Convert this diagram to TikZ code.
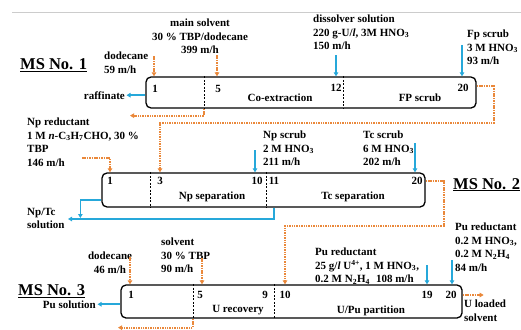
\documentclass[tikz,border=0pt]{standalone}
\usepackage{fontspec}
\setmainfont{Liberation Serif}
\usetikzlibrary{positioning,calc,arrows.meta}

\definecolor{aqblue}{RGB}{38,168,218}
\definecolor{orgorange}{RGB}{234,136,58}

\tikzset{
    bank/.style={draw, line width=1.3pt, rounded corners=5pt, inner sep=0pt},
    cut/.style={dash pattern=on 2pt off 1.5pt, line width=0.8pt},
    aqflow/.style={aqblue, line width=1.6pt, -{Triangle[length=4pt,width=4.5pt]}},
    orgflow/.style={orgorange, line width=2pt, dash pattern=on 1.5pt off 0.9pt, -{Triangle[length=4pt,width=4.5pt]}},
    feed/.style={font=\fontsize{11}{13.5}\selectfont\bfseries, inner sep=0pt, align=left},
    stage/.style={font=\fontsize{11}{13}\selectfont\bfseries, inner sep=0pt},
    msname/.style={font=\fontsize{16.5}{18}\selectfont\bfseries, inner sep=0pt}
}

\begin{document}
\begin{tikzpicture}[x=1pt, y=-1pt]
    \useasboundingbox (0,0) rectangle (521,329);
    \draw[black!20, line width=0.6pt] (12,12) -- (521,12);

    % MS No. 1
    \node[msname, anchor=base west] (ms1name) at (20,70) {\underline{MS No. 1}};
    \node[bank, minimum width=330pt, minimum height=31pt] (ms1) at (311,92.5) {};
    \coordinate (c15) at (204,0);
    \coordinate (c112) at (343,0);
    \draw[cut] (c15 |- ms1.north) -- (c15 |- ms1.south);
    \draw[cut] (c112 |- ms1.north) -- (c112 |- ms1.south);
    \node[stage] (s11) at (155,89) {1};
    \node[stage] (s15) at (218,89) {5};
    \node[stage] (s112) at (336,88) {12};
    \node[stage] (s120) at (463,88) {20};
    \node[stage, anchor=base] (coex) at (280,101) {Co-extraction};
    \node[stage, anchor=base] (fpscrub) at (420,101) {FP scrub};

    \node[feed, anchor=north west] (dod1) at (104,52) {dodecane\\59 m/h};
    \node[feed, anchor=north, align=center] (mainsolv) at (200,19) {main solvent\\30 \% TBP/dodecane\\399 m/h};
    \node[feed, anchor=north west] (dissolver) at (313,15) {dissolver solution\\220 g-U/\textit{l}, 3M HNO\textsubscript{3}\\150 m/h};
    \node[feed, anchor=north west] (fpfeed) at (467,30) {Fp scrub\\3 M HNO\textsubscript{3}\\93 m/h};
    \node[stage, anchor=base east] (raff) at (125,99) {raffinate};

    \coordinate (in1a) at (154,56);
    \coordinate (in1b) at (217,55);
    \coordinate (in1c) at (336,55);
    \coordinate (in1d) at (462,45);
    \draw[orgflow] (in1a) -- (in1a |- ms1.north);
    \draw[orgflow] (in1b) -- (in1b |- ms1.north);
    \draw[aqflow] (in1c) -- (in1c |- ms1.north);
    \draw[aqflow] (in1d) -- (in1d |- ms1.north);
    \draw[aqflow, shorten >=1.5pt] (ms1.west |- raff) -- (raff.east);
    \draw[orgflow] (ms1.south -| c15) -- ++(0,7) -- ++(-74,0);

    % MS No. 2
    \node[msname, anchor=base west] (ms2name) at (453,189) {\underline{MS No. 2}};
    \node[bank, minimum width=323pt, minimum height=34pt] (ms2) at (263.5,190) {};
    \coordinate (c23) at (150,0);
    \coordinate (c211) at (266,0);
    \draw[cut] (c23 |- ms2.north) -- (c23 |- ms2.south);
    \draw[cut] (c211 |- ms2.north) -- (c211 |- ms2.south);
    \node[stage] (s21) at (110,181) {1};
    \node[stage] (s23) at (160,181) {3};
    \node[stage] (s210) at (257,181) {10};
    \node[stage] (s211) at (274,181) {11};
    \node[stage] (s220) at (417,181) {20};
    \node[stage, anchor=base] (npsep) at (212,199) {Np separation};
    \node[stage, anchor=base] (tcsep) at (353,199) {Tc separation};

    \node[feed, anchor=north west] (npred) at (27,118) {Np reductant\\1 M \textit{n}-C\textsubscript{3}H\textsubscript{7}CHO, 30 \%\\TBP\\146 m/h};
    \node[feed, anchor=north west] (npscrub) at (263,131) {Np scrub\\2 M HNO\textsubscript{3}\\211 m/h};
    \node[feed, anchor=north west] (tcscrub) at (363,131) {Tc scrub\\6 M HNO\textsubscript{3}\\202 m/h};
    \node[feed, anchor=north west] (nptc) at (27,208) {Np/Tc\\solution};

    \coordinate (in2a) at (82,158);
    \coordinate (in2b) at (160,123);
    \coordinate (in2c) at (255,150);
    \coordinate (in2d) at (415,143);
    \coordinate (out2) at (68,219);
    \draw[orgflow] ([yshift=6.5pt]ms1.east) -- ++(17,0) |- (in2b) -- (in2b |- ms2.north);
    \draw[orgflow] (in2a) -| (s21 |- ms2.north);
    \draw[aqflow] (in2c) -- (in2c |- ms2.north);
    \draw[aqflow] (in2d) -- (in2d |- ms2.north);
    \draw[aqflow] ([yshift=-10pt]ms2.west) -- ++(-21,0) -- ++(0,18);
    \draw[aqflow] (ms2.south -| s211) |- (out2);

    % MS No. 3
    \node[msname, anchor=base west] (ms3name) at (18,295.5) {\underline{MS No. 3}};
    \node[bank, minimum width=341pt, minimum height=33pt] (ms3) at (291.5,301.5) {};
    \coordinate (c35) at (193,0);
    \coordinate (c310) at (274,0);
    \draw[cut] (c35 |- ms3.north) -- (c35 |- ms3.south);
    \draw[cut] (c310 |- ms3.north) -- (c310 |- ms3.south);
    \node[stage] (s31) at (131,295) {1};
    \node[stage] (s35) at (200,295) {5};
    \node[stage] (s39) at (265,295) {9};
    \node[stage] (s310) at (285,295) {10};
    \node[stage] (s319) at (427,295) {19};
    \node[stage] (s320) at (451,295) {20};
    \node[stage, anchor=base] (urec) at (238,312) {U recovery};
    \node[stage, anchor=base] (upu) at (371,313) {U/Pu partition};

    \node[feed, anchor=north, align=center] (dod3) at (110,252) {dodecane\\46 m/h};
    \node[feed, anchor=north west] (solv3) at (161,238) {solvent\\30 \% TBP\\90 m/h};
    \node[feed, anchor=north west] (pured) at (315,248) {Pu reductant\\25 g/\textit{l} U\textsuperscript{4+}, 1 M HNO\textsubscript{3},\\0.2 M N\textsubscript{2}H\textsubscript{4}\hspace{6pt}108 m/h};
    \node[feed, anchor=north west] (pured2) at (455,223) {Pu reductant\\0.2 M HNO\textsubscript{3},\\0.2 M N\textsubscript{2}H\textsubscript{4}\\84 m/h};
    \node[stage, anchor=base east] (pusol) at (96,308) {Pu solution};
    \node[feed, anchor=north west] (uload) at (464,300) {U loaded\\solvent};

    \coordinate (in3a) at (130,257);
    \coordinate (in3b) at (202,258);
    \coordinate (in3c) at (285,226);
    \coordinate (in3d) at (427,265);
    \coordinate (in3e) at (452,260);
    \draw[orgflow] ([yshift=9pt]ms2.east) -- ++(18,0) |- (in3c) -- (in3c |- ms3.north);
    \draw[orgflow] (in3a) -- (in3a |- ms3.north);
    \draw[orgflow] (in3b) -- (in3b |- ms3.north);
    \draw[aqflow] (in3d) -- (in3d |- ms3.north);
    \draw[aqflow] (in3e) -- (in3e |- ms3.north);
    \draw[aqflow, shorten >=1.5pt] (ms3.west |- pusol) -- (pusol.east);
    \draw[orgflow] (ms3.south -| c35) -- ++(0,9) -- ++(-75,0);
    \draw[orgflow] (ms3.east |- s320) -- ++(21,0);
\end{tikzpicture}
\end{document}
